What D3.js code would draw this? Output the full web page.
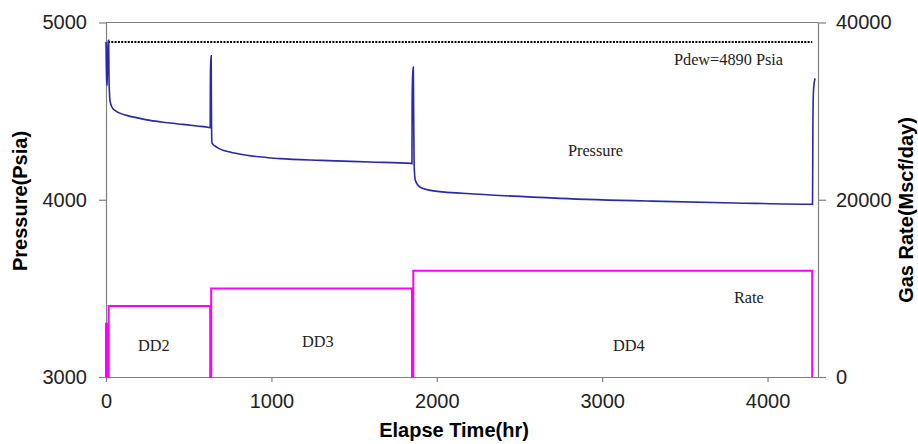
<html>

<head>
  <script src="https://cdn.jsdelivr.net/npm/d3@7/dist/d3.min.js"></script>
  <style>
    body { margin: 0; background: #fff; }
  </style>
  <script>
    // pressure history (hr, psia)
    var presTime = [0, 2, 5, 7, 10, 14, 16, 18, 21, 24, 35, 54, 80, 125, 190, 266, 360, 466, 550, 623,
      630, 631, 633, 636, 637, 638, 641, 669, 750, 851, 1052, 1300, 1600, 1845,
      1850, 1851, 1854, 1858, 1860, 1863, 1870, 1898, 1979, 2261, 2745, 3300, 3800, 4272,
      4274, 4277, 4282, 4288];
    var presVal = [4890, 4760, 4660, 4645, 4820, 4895, 4899, 4700, 4600, 4561, 4525, 4504, 4490, 4476, 4462, 4448, 4436, 4425, 4416, 4408,
      4406, 4650, 4770, 4812, 4600, 4420, 4320, 4297, 4269, 4251, 4232, 4222, 4213, 4205,
      4204, 4550, 4700, 4748, 4500, 4200, 4110, 4072, 4050, 4031, 4008, 3992, 3982, 3975,
      4400, 4600, 4660, 4685];

    // gas rate steps (hr, Mscf/day)
    var rateTime = [0, 0, 8, 16, 630, 636, 1850, 1858, 4270];
    var rateVal = [0, 6000, 0, 8000, 0, 10000, 0, 12000, 0];

    var pdew = 4890;
    var pdewRange = [12, 4270];

    var xTicks = [0, 1000, 2000, 3000, 4000];
    var pTicks = [3000, 4000, 5000];
    var rTicks = [0, 20000, 40000];

    var labels = [
      { text: "Pdew=4890 Psia", t: 3434, axis: "p", v: 4763 },
      { text: "Pressure", t: 2793, axis: "p", v: 4245 },
      { text: "Rate", t: 3797, axis: "r", v: 8340 },
      { text: "DD2", t: 193, axis: "r", v: 2930 },
      { text: "DD3", t: 1185, axis: "r", v: 3380 },
      { text: "DD4", t: 3065, axis: "r", v: 2930 }
    ];

    window.onload = function () {
      var W = 918, H = 444;
      var left = 106, right = 818, top = 22.5, bottom = 377;
      var axisColor = "#808080";
      var sans = "'Liberation Sans', Arial, sans-serif";
      var serif = "'Liberation Serif', 'Times New Roman', serif";

      var svg = d3.select("body").append("svg").attr("width", W).attr("height", H);

      var x = d3.scaleLinear().domain([0, 4305]).range([left, right]);
      var yP = d3.scaleLinear().domain([3000, 5000]).range([bottom, top]);
      var yR = d3.scaleLinear().domain([0, 40000]).range([bottom, top]);

      // frame top line
      svg.append("line")
        .attr("x1", left).attr("x2", right).attr("y1", top).attr("y2", top)
        .attr("stroke", axisColor).attr("stroke-width", 1.2);

      function styleAxis(g) {
        g.select(".domain").attr("stroke", axisColor).attr("stroke-width", 1.2);
        g.selectAll(".tick line").attr("stroke", axisColor).attr("stroke-width", 1.2);
        g.selectAll(".tick text").attr("fill", "#222").style("font-family", sans).style("font-size", "20px");
      }

      var gx = svg.append("g").attr("transform", "translate(0," + bottom + ")")
        .call(d3.axisBottom(x).tickValues(xTicks).tickSizeInner(5).tickSizeOuter(0).tickPadding(12).tickFormat(d3.format("d")));
      styleAxis(gx);

      var gl = svg.append("g").attr("transform", "translate(" + left + ",0)")
        .call(d3.axisLeft(yP).tickValues(pTicks).tickSizeInner(7).tickSizeOuter(0).tickPadding(12).tickFormat(d3.format("d")));
      styleAxis(gl);

      var gr = svg.append("g").attr("transform", "translate(" + right + ",0)")
        .call(d3.axisRight(yR).tickValues(rTicks).tickSizeInner(8).tickSizeOuter(0).tickPadding(10).tickFormat(d3.format("d")));
      styleAxis(gr);

      // dew point pressure line
      svg.append("line")
        .attr("x1", x(pdewRange[0])).attr("x2", x(pdewRange[1]))
        .attr("y1", yP(pdew)).attr("y2", yP(pdew))
        .attr("stroke", "#000").attr("stroke-width", 1.8).attr("stroke-dasharray", "2,1.3");

      // rate steps
      var rateData = rateTime.map(function (t, i) { return [t, rateVal[i]]; });
      svg.append("path")
        .datum(rateData)
        .attr("fill", "none")
        .attr("stroke", "#ff00ff")
        .attr("stroke-width", 2)
        .attr("d", d3.line().curve(d3.curveStepAfter)
          .x(function (d) { return x(d[0]); })
          .y(function (d) { return yR(d[1]); }));

      // pressure
      var presData = presTime.map(function (t, i) { return [t, presVal[i]]; });
      svg.append("path")
        .datum(presData)
        .attr("fill", "none")
        .attr("stroke", "#2a2aa6")
        .attr("stroke-width", 1.6)
        .attr("d", d3.line().curve(d3.curveMonotoneX)
          .x(function (d) { return x(d[0]); })
          .y(function (d) { return yP(d[1]); }));

      // annotations
      svg.selectAll("text.note")
        .data(labels)
        .enter()
        .append("text")
        .attr("class", "note")
        .attr("x", function (d) { return x(d.t); })
        .attr("y", function (d) { return d.axis == "p" ? yP(d.v) : yR(d.v); })
        .attr("fill", "#222")
        .style("font-family", serif)
        .style("font-size", "16.3px")
        .text(function (d) { return d.text; });

      // axis titles
      svg.append("text")
        .attr("x", 454).attr("y", 437)
        .attr("text-anchor", "middle")
        .style("font-family", sans).style("font-size", "20px").style("font-weight", "bold")
        .text("Elapse Time(hr)");

      svg.append("text")
        .attr("transform", "translate(27,201) rotate(-90)")
        .attr("text-anchor", "middle")
        .style("font-family", sans).style("font-size", "20px").style("font-weight", "bold")
        .text("Pressure(Psia)");

      svg.append("text")
        .attr("transform", "translate(913,210) rotate(-90)")
        .attr("text-anchor", "middle")
        .style("font-family", sans).style("font-size", "20px").style("font-weight", "bold")
        .text("Gas Rate(Mscf/day)");
    };
  </script>
</head>

<body>
</body>

</html>
